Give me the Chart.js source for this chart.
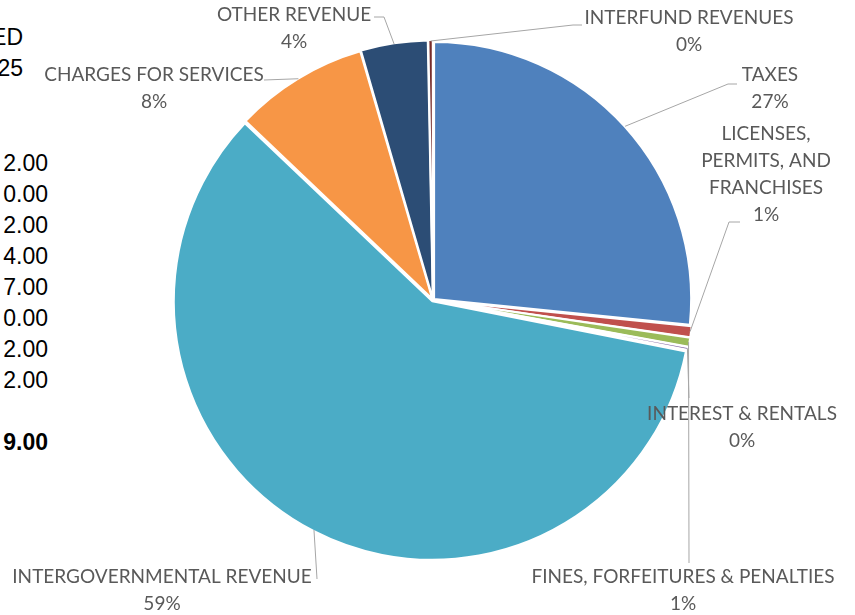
<!DOCTYPE html>
<html>
<head>
<meta charset="utf-8">
<script src="https://cdn.jsdelivr.net/npm/chart.js@4.4.1/dist/chart.umd.min.js"></script>
<style>
    html, body { margin: 0; padding: 0; background: #fff; }
    #wrap { position: relative; width: 855px; height: 615px; overflow: hidden; }
    #pie { position: absolute; left: 0; top: 0; }
    .cut {
        position: absolute;
        text-align: right;
        white-space: nowrap;
        font-family: "Liberation Sans", Arial, sans-serif;
        font-size: 23px;
        line-height: 31px;
        color: #000;
    }
</style>
</head>
<body>
<div id="wrap">
    <div class="cut" style="top:22px;left:-100px;width:123px;">ED<br>25</div>
    <div class="cut" style="top:148px;left:-100px;width:148px;">2.00<br>0.00<br>2.00<br>4.00<br>7.00<br>0.00<br>2.00<br>2.00<br><br><b>9.00</b></div>
    <canvas id="pie" width="855" height="615"></canvas>
</div>
<script>
const categories = [
    "TAXES",
    "LICENSES, PERMITS, AND FRANCHISES",
    "FINES, FORFEITURES & PENALTIES",
    "INTEREST & RENTALS",
    "INTERGOVERNMENTAL REVENUE",
    "CHARGES FOR SERVICES",
    "OTHER REVENUE",
    "INTERFUND REVENUES"
];
const shares = [26.6, 0.7, 0.6, 0.2, 59.0, 8.4, 4.2, 0.3];
const colors = ["#4F81BD", "#C0504D", "#9BBB59", "#8064A2", "#4BACC6", "#F79646", "#2C4D75", "#772C2A"];

// where each label sits and how its leader line bends
const labelLayout = [
    { lines: ["TAXES"], x: 770, y: 75, path: [[728, 84], [737, 84]] },
    { lines: ["LICENSES,", "PERMITS, AND", "FRANCHISES"], x: 766, y: 134, path: [[729, 222], [740, 222]] },
    { lines: ["FINES, FORFEITURES & PENALTIES"], x: 683, y: 577, path: [[689, 563]] },
    { lines: ["INTEREST & RENTALS"], x: 742, y: 414, path: [[689, 398]] },
    { lines: ["INTERGOVERNMENTAL REVENUE"], x: 162, y: 577, path: [[317, 579]] },
    { lines: ["CHARGES FOR SERVICES"], x: 154, y: 75, path: [[264, 80]] },
    { lines: ["OTHER REVENUE"], x: 294, y: 15, path: [[384, 17], [374, 17]] },
    { lines: ["INTERFUND REVENUES"], x: 689, y: 18, path: [[573, 25], [582, 25]] }
];

const LINE_H = 27;

const outsideLabels = {
    id: "outsideLabels",
    afterDraw(chart) {
        const ctx = chart.ctx;
        const arcs = chart.getDatasetMeta(0).data;
        const data = chart.data.datasets[0].data;
        const total = data.reduce((a, b) => a + b, 0);

        ctx.save();
        arcs.forEach((arc, i) => {
            const layout = labelLayout[i];
            const p = arc.getProps(["x", "y", "startAngle", "endAngle", "outerRadius"], true);
            const mid = (p.startAngle + p.endAngle) / 2;
            const r = p.outerRadius + 2;
            const sx = p.x + Math.cos(mid) * r;
            const sy = p.y + Math.sin(mid) * r;

            ctx.strokeStyle = "#A6A6A6";
            ctx.lineWidth = 1;
            ctx.beginPath();
            ctx.moveTo(sx, sy);
            layout.path.forEach(pt => ctx.lineTo(pt[0], pt[1]));
            ctx.stroke();

            ctx.fillStyle = "#595959";
            ctx.font = "19px Lato, 'Open Sans', sans-serif";
            ctx.textAlign = "center";
            ctx.textBaseline = "middle";
            const rows = layout.lines.concat([Math.round(data[i] / total * 100) + "%"]);
            rows.forEach((txt, k) => {
                ctx.fillText(txt, layout.x, layout.y + k * LINE_H);
            });
        });
        ctx.restore();
    }
};

new Chart(document.getElementById("pie"), {
    type: "pie",
    data: {
        labels: categories,
        datasets: [
            {
                data: shares,
                backgroundColor: colors,
                borderColor: "#ffffff",
                borderWidth: 2,
                offset: 6
            }
        ]
    },
    options: {
        responsive: false,
        animation: false,
        layout: {
            padding: { top: 39, bottom: 54, left: 133, right: 122 }
        },
        plugins: {
            legend: { display: false },
            tooltip: { enabled: false }
        }
    },
    plugins: [outsideLabels]
});
</script>
</body>
</html>
